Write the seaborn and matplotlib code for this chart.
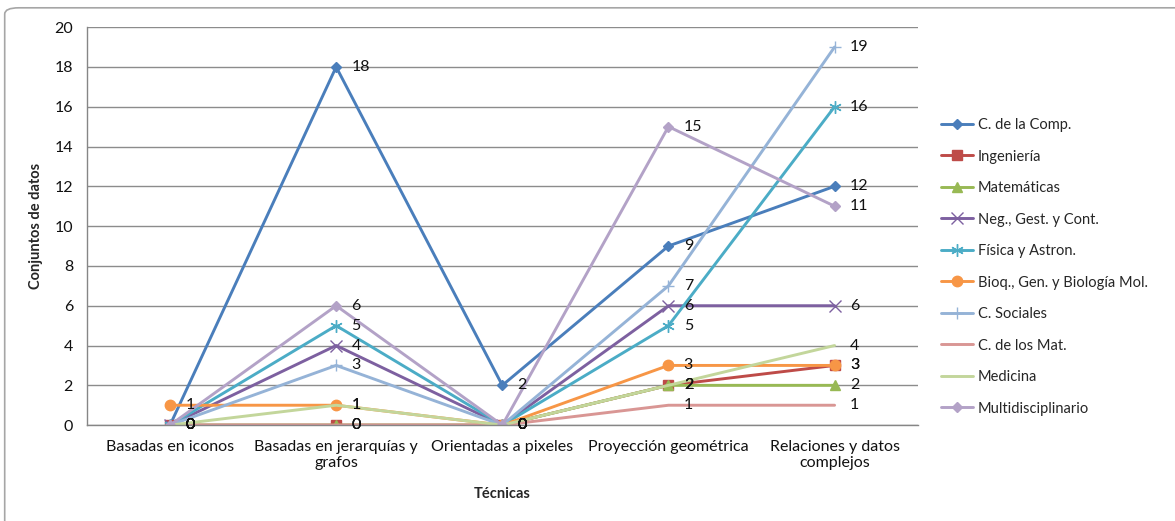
import matplotlib
matplotlib.use("Agg")
import matplotlib.pyplot as plt
from matplotlib.patches import FancyBboxPatch
import pandas as pd
import seaborn as sns

sns.set_theme(style="white")
plt.rcParams["font.family"] = ["Lato", "DejaVu Sans"]

categories = ["Basadas en iconos", "Basadas en jerarquías y\ngrafos", "Orientadas a pixeles",
              "Proyección geométrica", "Relaciones y datos\ncomplejos"]

comp = [0, 18, 2, 9, 12]
ingenieria = [0, 0, 0, 2, 3]
matematicas = [0, 0, 0, 2, 2]
negocios = [0, 4, 0, 6, 6]
fisica = [0, 5, 0, 5, 16]
bioq = [1, 1, 0, 3, 3]
sociales = [0, 3, 0, 7, 19]
materiales = [0, 0, 0, 1, 1]
medicina = [0, 1, 0, 2, 4]
multi = [0, 6, 0, 15, 11]

series = [
    ("C. de la Comp.", comp, "#4A7EBB", "D", 5.5),
    ("Ingeniería", ingenieria, "#BE4B48", "s", 6.5),
    ("Matemáticas", matematicas, "#98B954", "^", 7.5),
    ("Neg., Gest. y Cont.", negocios, "#7D60A0", "x", 8),
    ("Física y Astron.", fisica, "#4BACC6", (6, 2, 0), 9),
    ("Bioq., Gen. y Biología Mol.", bioq, "#F79646", "o", 7.5),
    ("C. Sociales", sociales, "#95B3D7", "+", 9),
    ("C. de los Mat.", materiales, "#D99694", None, 0),
    ("Medicina", medicina, "#C3D69B", None, 0),
    ("Multidisciplinario", multi, "#B3A2C7", "D", 5.5),
]

fig = plt.figure(figsize=(11.75, 5.21), dpi=100)
ax = fig.add_axes([0.074, 0.184, 0.707, 0.764])

x = list(range(len(categories)))
for name, vals, color, marker, ms in series:
    df = pd.DataFrame({"x": x, "y": vals})
    kw = dict(marker=marker, markersize=ms, markeredgecolor=color,
              markerfacecolor=color, markeredgewidth=1.0) if marker else {}
    sns.lineplot(data=df, x="x", y="y", ax=ax, color=color, linewidth=2.1,
                 label=name, sort=False, **kw)
    for xi, yi in zip(x, vals):
        ax.annotate(str(yi), (xi, yi), xytext=(11, 0), textcoords="offset points",
                    ha="left", va="center", fontsize=11.5, color="#111111")

ax.set_xlim(-0.5, 4.5)
ax.set_ylim(0, 20)
ax.set_yticks(range(0, 21, 2))
ax.set_xticks(x)
ax.set_xticklabels(categories, fontsize=11.5, color="#111111", linespacing=1.15)
ax.tick_params(axis="x", length=0, pad=11)
ax.set_xticks([i + 0.5 for i in range(-1, 5)], minor=True)
ax.tick_params(axis="x", which="minor", length=5, color="#868686", width=1, direction="out")
ax.tick_params(axis="y", length=5, color="#868686", width=1, direction="out",
               labelsize=11.5, labelcolor="#111111", pad=5)
ax.grid(axis="y", color="#8C8C8C", linewidth=1)
ax.set_axisbelow(True)
for side in ["top", "right"]:
    ax.spines[side].set_visible(False)
for side in ["left", "bottom"]:
    ax.spines[side].set_color("#868686")
    ax.spines[side].set_linewidth(1)

ax.set_xlabel("Técnicas", fontsize=10.5, fontweight="bold", labelpad=12)
ax.set_ylabel("Conjuntos de datos", fontsize=10.5, fontweight="bold", labelpad=8)

ax.legend(loc="center left", bbox_to_anchor=(0.801, 0.488), bbox_transform=fig.transFigure,
          frameon=False, fontsize=10.5, labelspacing=1.2, handlelength=2.2,
          handletextpad=0.3, borderaxespad=0, borderpad=0)

border = FancyBboxPatch((0.004, -0.1), 1.1, 1.085, boxstyle="round,pad=0,rounding_size=0.012",
                        transform=fig.transFigure, facecolor="none", edgecolor="#A6A6A6",
                        linewidth=1.2, clip_on=False)
fig.patches.append(border)

fig.savefig("out.png", dpi=100)
